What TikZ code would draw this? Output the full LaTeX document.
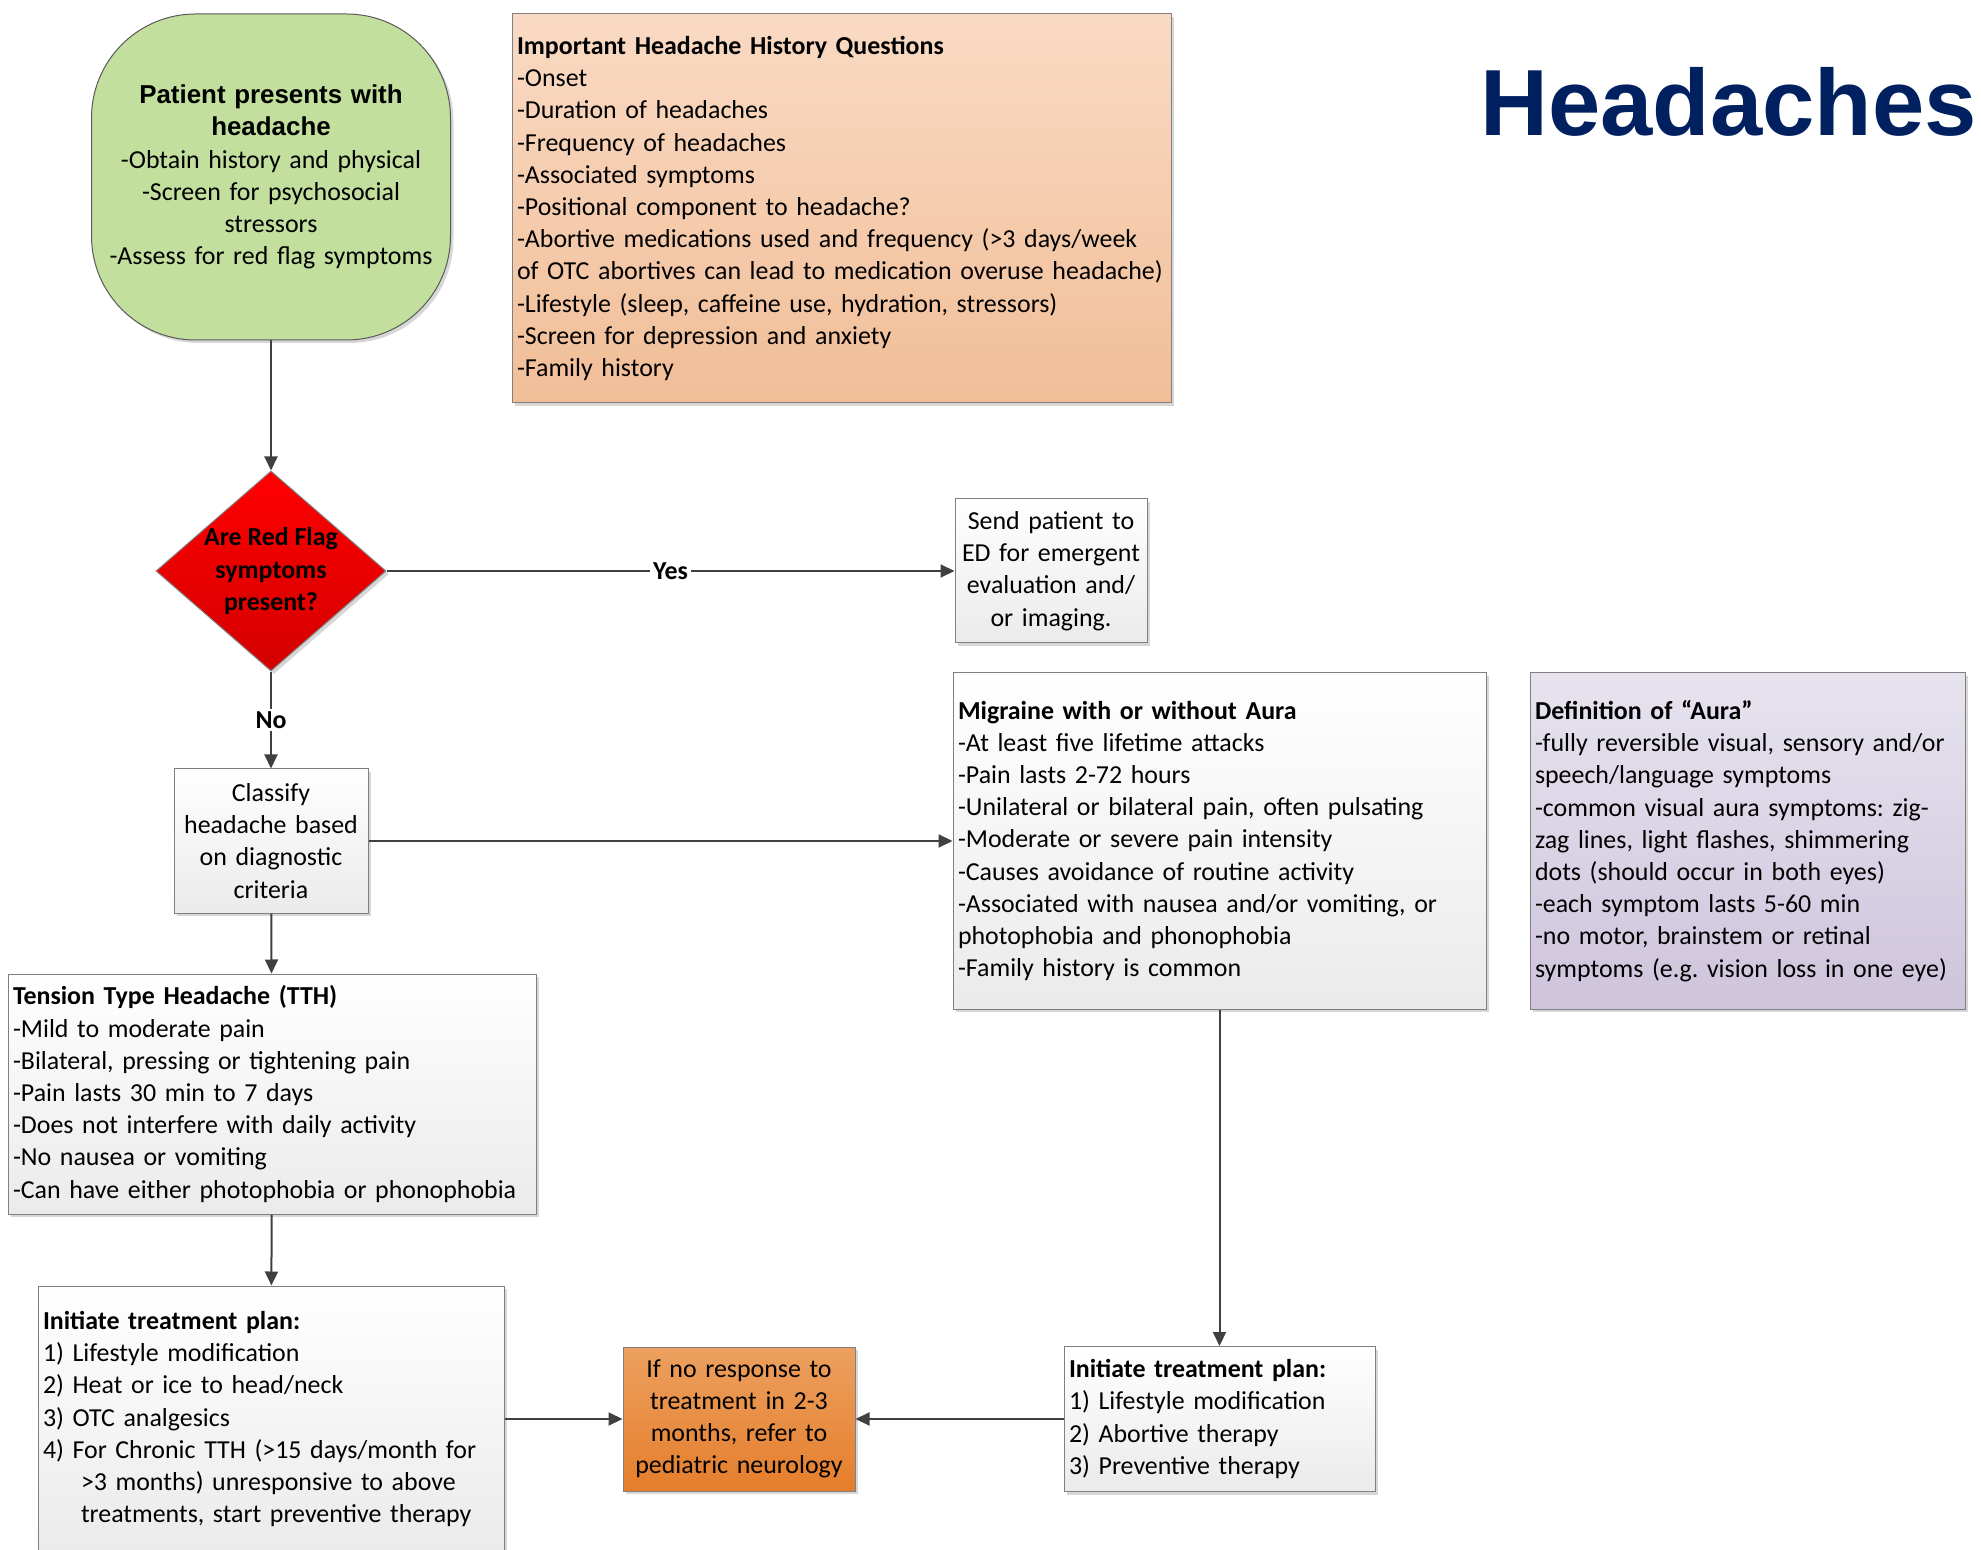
\documentclass[tikz,border=0pt]{standalone}
\usepackage{fontspec}
\setmainfont{Carlito}
\newfontfamily\arialfont{Liberation Sans}
\usetikzlibrary{shapes.geometric,arrows.meta,shadows}
\definecolor{linegray}{HTML}{404040}
\definecolor{navy}{HTML}{002060}
\definecolor{startgreen}{HTML}{C2DF9E}
\definecolor{histtop}{HTML}{F9DAC4}
\definecolor{histbot}{HTML}{F1BE97}
\definecolor{auratop}{HTML}{E7E3EE}
\definecolor{aurabot}{HTML}{CEC4DC}
\definecolor{neurotop}{HTML}{ECA05F}
\definecolor{neurobot}{HTML}{E57E2C}
\newcommand{\greenhead}[1]{{\arialfont\bfseries #1}}
\tikzset{
  txt/.style={font=\fontsize{12.95}{16.1}\selectfont\frenchspacing},
  shade box/.style={drop shadow={shadow xshift=1.5pt,shadow yshift=-1.5pt,fill=black!35,opacity=.45}},
  basebox/.style={rectangle,draw=black!50,line width=0.5pt,txt,shade box,inner xsep=2.5pt,inner ysep=2pt},
  whitebox/.style={basebox,top color=white,bottom color=black!8,align=center},
  listbox/.style={whitebox,align=left},
  startbox/.style={rectangle,rounded corners=52pt,draw=black!65,line width=0.5pt,fill=startgreen,txt,shade box,align=center},
  redflag/.style={diamond,draw=black!50,line width=0.5pt,top color=red,bottom color=red!83!black,
    minimum width=115pt,minimum height=100pt,inner sep=-8pt,align=center,
    font=\fontsize{12.95}{16.1}\selectfont\bfseries,shade box},
  flow/.style={-{Triangle[length=7pt,width=6.5pt]},draw=linegray,line width=1pt},
  answer/.style={fill=white,inner sep=1.5pt,font=\fontsize{12.95}{16.1}\selectfont\bfseries},
}
\begin{document}
\begin{tikzpicture}[x=0.5pt,y=-0.5pt]
\useasboundingbox (0,0) rectangle (1981,1550);

\node[startbox,minimum width=179.5pt,minimum height=163pt,text width=172pt] (start) at (271,177)
  {\greenhead{Patient presents with}\\\greenhead{headache}\\-Obtain history and physical\\-Screen for psychosocial\\stressors\\-Assess for red flag symptoms};

\node[listbox,top color=histtop,bottom color=histbot,minimum height=194.5pt,text width=324.5pt] (hist) at (841.5,208.5)
  {\textbf{Important Headache History Questions}\\-Onset\\-Duration of headaches\\-Frequency of headaches\\-Associated symptoms\\-Positional component to headache?\\-Abortive medications used and frequency (>3 days/week\\of OTC abortives can lead to medication overuse headache)\\-Lifestyle (sleep, caffeine use, hydration, stressors)\\-Screen for depression and anxiety\\-Family history};

\node[font=\arialfont\bfseries\fontsize{47}{47}\selectfont,text=navy,anchor=base east,inner sep=0pt] (title) at (1977,136) {Headaches};

\node[redflag] (flag) at (271,571) {Are Red Flag\\symptoms\\present?};

\node[whitebox,minimum height=72pt,text width=91pt] (send) at (1051,571)
  {Send patient to\\ED for emergent\\evaluation and/\\or imaging.};

\node[whitebox,minimum height=72pt,text width=92pt] (classify) at (271,841)
  {Classify\\headache based\\on diagnostic\\criteria};

\node[listbox,minimum height=168pt,text width=261.5pt] (migraine) at (1219.5,841)
  {\textbf{Migraine with or without Aura}\\-At least five lifetime attacks\\-Pain lasts 2-72 hours\\-Unilateral or bilateral pain, often pulsating\\-Moderate or severe pain intensity\\-Causes avoidance of routine activity\\-Associated with nausea and/or vomiting, or\\photophobia and phonophobia\\-Family history is common};

\node[listbox,top color=auratop,bottom color=aurabot,minimum height=168pt,text width=212.5pt] (aura) at (1747.5,841)
  {\textbf{Definition of “Aura”}\\-fully reversible visual, sensory and/or\\speech/language symptoms\\-common visual aura symptoms: zig-\\zag lines, light flashes, shimmering\\dots (should occur in both eyes)\\-each symptom lasts 5-60 min\\-no motor, brainstem or retinal\\symptoms (e.g. vision loss in one eye)};

\node[listbox,minimum height=120pt,text width=259pt] (tth) at (272,1094)
  {\textbf{Tension Type Headache (TTH)}\\-Mild to moderate pain\\-Bilateral, pressing or tightening pain\\-Pain lasts 30 min to 7 days\\-Does not interfere with daily activity\\-No nausea or vomiting\\-Can have either photophobia or phonophobia};

\node[listbox,minimum height=133pt,text width=228pt] (treatL) at (271,1419)
  {\textbf{Initiate treatment plan:}\\1) Lifestyle modification\\2) Heat or ice to head/neck\\3) OTC analgesics\\4) For Chronic TTH (>15 days/month for\\\hspace*{19pt}>3 months) unresponsive to above\\\hspace*{19pt}treatments, start preventive therapy};

\node[whitebox,top color=neurotop,bottom color=neurobot,minimum height=72pt,text width=111pt] (neuro) at (739,1419)
  {If no response to\\treatment in 2-3\\months, refer to\\pediatric neurology};

\node[listbox,minimum height=72.5pt,text width=150.5pt] (treatR) at (1219.5,1419)
  {\textbf{Initiate treatment plan:}\\1) Lifestyle modification\\2) Abortive therapy\\3) Preventive therapy};

\draw[flow] (start) -- (flag);
\draw[flow] (flag) -- node[answer] {Yes} (send);
\draw[flow] (flag) -- node[answer] {No} (classify);
\draw[flow] (classify) -- (migraine);
\draw[flow] (classify) -- (tth);
\draw[flow] (tth) -- (treatL);
\draw[flow] (migraine) -- (treatR);
\draw[flow] (treatL) -- (neuro);
\draw[flow] (treatR) -- (neuro);
\end{tikzpicture}
\end{document}
